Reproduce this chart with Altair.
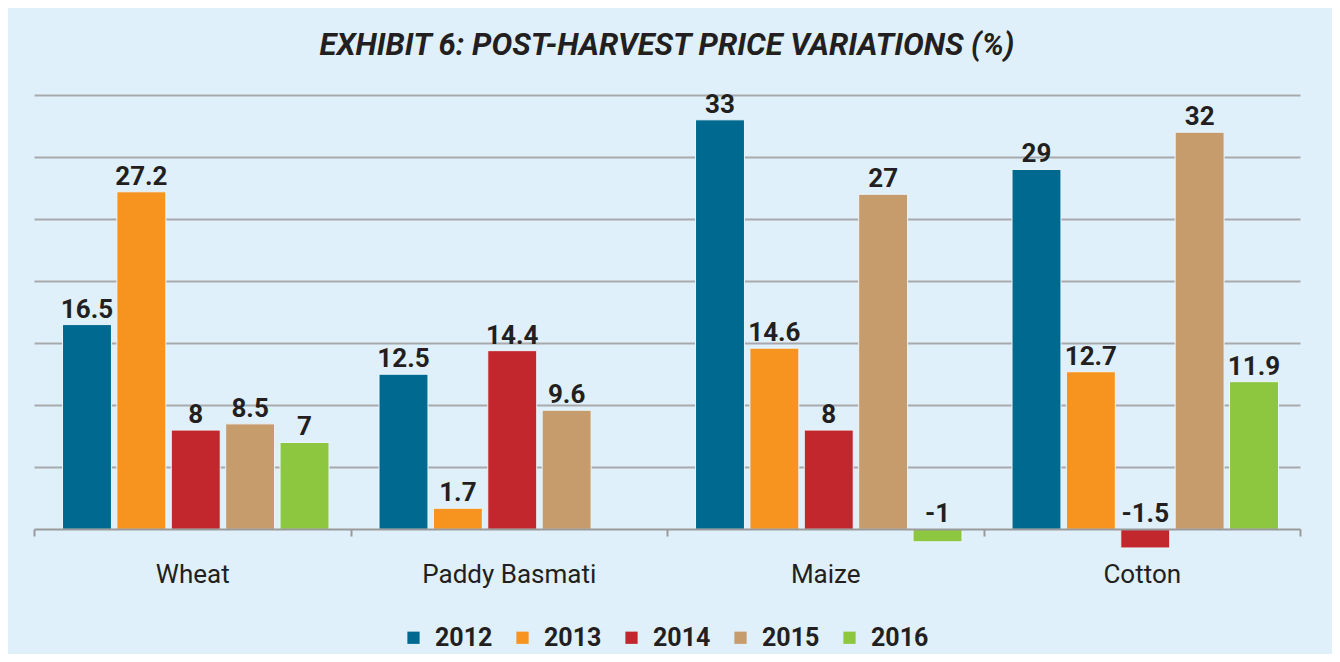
import altair as alt
import pandas as pd

crops = ["Wheat", "Paddy Basmati", "Maize", "Cotton"]
years = ["2012", "2013", "2014", "2015", "2016"]
colors = ["#006990", "#f7941f", "#c1272d", "#c69c6d", "#8dc63f"]

wheat = [16.5, 27.2, 8, 8.5, 7]
paddy = [12.5, 1.7, 14.4, 9.6, None]
maize = [33, 14.6, 8, 27, -1]
cotton = [29, 12.7, -1.5, 32, 11.9]

rows = []
for crop, vals in zip(crops, [wheat, paddy, maize, cotton]):
    for yr, v in zip(years, vals):
        if v is not None:
            rows.append({"crop": crop, "year": yr, "value": v,
                         "labelpos": max(v, 0), "label": f"{v:g}"})
df = pd.DataFrame(rows)

H = 484
ymin, ymax = -4, 35
px_per_unit = H / (ymax - ymin)

FONT = "Roboto"

x_enc = alt.X("crop:N", sort=crops, title=None,
              scale=alt.Scale(paddingInner=0, paddingOuter=0),
              axis=alt.Axis(offset=-round(-ymin * px_per_unit), tickBand="extent",
                            domainColor="#9a9a9a", domainWidth=2,
                            tickColor="#9a9a9a", tickWidth=2, tickSize=7,
                            labelAngle=0, labelFont=FONT, labelFontSize=26,
                            labelColor="#231f20", labelPadding=25, zindex=1))
xoff = alt.XOffset("year:N", sort=years,
                   scale=alt.Scale(paddingInner=0.1, paddingOuter=0.46, align=0.57))
y_enc = alt.Y("value:Q", title=None,
              scale=alt.Scale(domain=[ymin, ymax], nice=False, zero=False),
              axis=alt.Axis(values=[5, 10, 15, 20, 25, 30, 35], labels=False,
                            ticks=False, domain=False, grid=True,
                            gridColor="#a7a9ac", gridWidth=2))

bars = alt.Chart(df).mark_bar(stroke="#eaf5fb", strokeWidth=1).encode(
    x=x_enc, xOffset=xoff, y=y_enc, y2=alt.datum(0),
    color=alt.Color("year:N", sort=years,
                    scale=alt.Scale(domain=years, range=colors), title=None,
                    legend=alt.Legend(orient="none", direction="horizontal",
                                      legendX=367, legendY=530,
                                      symbolType="square", symbolSize=150,
                                      symbolStrokeWidth=0,
                                      labelFont=FONT, labelFontSize=25,
                                      labelFontWeight="bold",
                                      labelColor="#231f20", labelOffset=9,
                                      columnPadding=17)),
)

labels = alt.Chart(df).mark_text(font=FONT, fontSize=26, fontWeight="bold",
                                 color="#231f20", baseline="alphabetic", dy=-7).encode(
    x=alt.X("crop:N", sort=crops), xOffset=xoff,
    y=alt.Y("labelpos:Q"), text="label:N",
)

chart = (bars + labels).properties(
    width=1266, height=H,
    title=alt.Title("EXHIBIT 6: POST-HARVEST PRICE VARIATIONS (%)",
                    font=FONT, fontSize=31, fontWeight="bold", fontStyle="italic",
                    color="#231f20", anchor="middle", offset=30),
    background="#dff0fa",
    padding={"left": 26, "top": 87, "right": 32, "bottom": 75},
    autosize=alt.AutoSizeParams(type="none"),
).configure_view(stroke=None)

chart.save("out.html", embed_options={"renderer": "svg", "actions": False})
